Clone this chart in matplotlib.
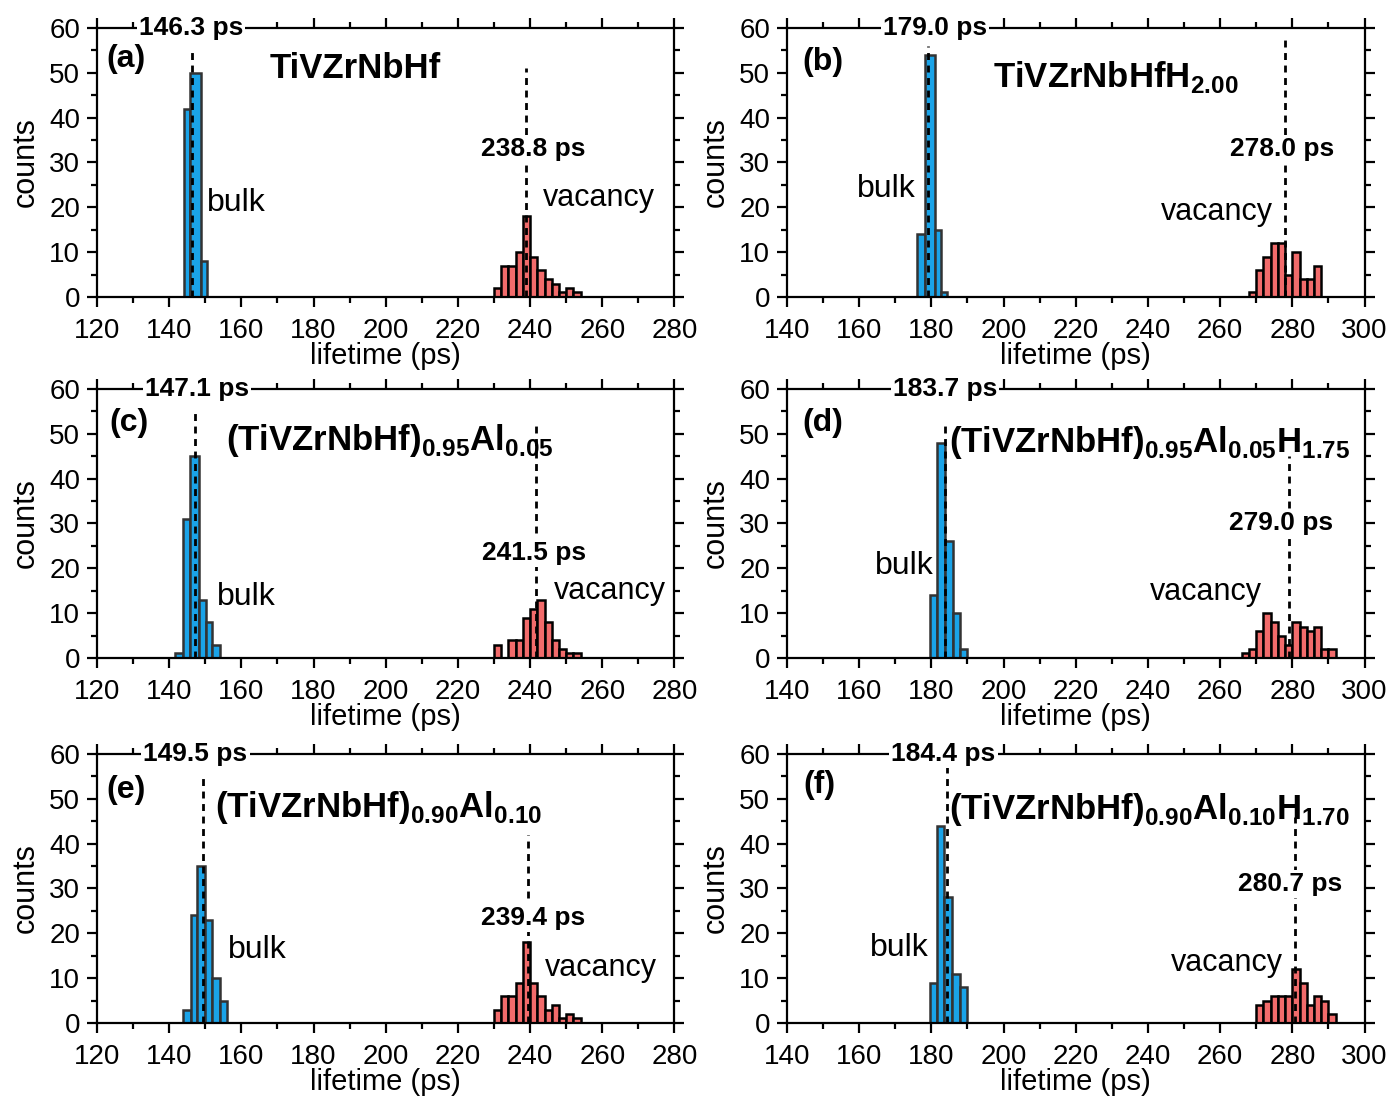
import numpy as np
import matplotlib.pyplot as plt
from matplotlib.ticker import MultipleLocator

plt.rcParams['font.family'] = ['Liberation Sans', 'DejaVu Sans']
plt.rcParams['mathtext.fontset'] = 'custom'
plt.rcParams['mathtext.rm'] = 'Liberation Sans'
plt.rcParams['mathtext.bf'] = 'Liberation Sans:bold'

# bulk histograms (bin edges, counts)
bulk_edges_a = [144.1, 145.7, 148.9, 150.5]
bulk_counts_a = [42, 50, 8]
bulk_edges_b = [176.0, 178.1, 181.0, 182.7, 184.2]
bulk_counts_b = [14, 54, 15, 1]
bulk_edges_c = [141.6, 143.7, 145.8, 148.3, 150.2, 152.0, 154.1]
bulk_counts_c = [1, 31, 45, 13, 8, 3]
bulk_edges_d = [179.6, 181.6, 183.9, 186.0, 188.0, 189.8]
bulk_counts_d = [14, 48, 26, 10, 2]
bulk_edges_e = [143.7, 146.0, 147.8, 149.9, 152.0, 154.1, 156.1]
bulk_counts_e = [3, 24, 35, 23, 10, 5]
bulk_edges_f = [179.6, 181.6, 183.6, 185.7, 187.8, 189.8]
bulk_counts_f = [9, 44, 28, 11, 8]

# vacancy histograms (first edge, 2 ps bins)
vac_start_a = 230
vac_counts_a = [2, 7, 7, 10, 18, 9, 6, 4, 3, 1, 2, 1]
vac_start_b = 268
vac_counts_b = [1, 6, 9, 12, 12, 5, 10, 4, 4, 7]
vac_start_c = 230
vac_counts_c = [3, 0, 4, 4, 9, 11, 13, 8, 4, 2, 1, 1]
vac_start_d = 266
vac_counts_d = [1, 2, 6, 10, 8, 5, 3, 8, 7, 6, 7, 2, 2]
vac_start_e = 230
vac_counts_e = [3, 6, 6, 9, 18, 9, 6, 3, 4, 1, 2, 1]
vac_start_f = 270
vac_counts_f = [4, 5, 6, 6, 6, 12, 9, 4, 6, 5, 2]

# mean lifetimes (ps)
bulk_tau = [146.3, 179.0, 147.1, 183.7, 149.5, 184.4]
vac_tau = [238.8, 278.0, 241.5, 279.0, 239.4, 280.7]

names = ['TiVZrNbHf', r'TiVZrNbHfH$_\mathbf{2.00}$',
         r'(TiVZrNbHf)$_\mathbf{0.95}$Al$_\mathbf{0.05}$',
         r'(TiVZrNbHf)$_\mathbf{0.95}$Al$_\mathbf{0.05}$H$_\mathbf{1.75}$',
         r'(TiVZrNbHf)$_\mathbf{0.90}$Al$_\mathbf{0.10}$',
         r'(TiVZrNbHf)$_\mathbf{0.90}$Al$_\mathbf{0.10}$H$_\mathbf{1.70}$']
letters = ['(a)', '(b)', '(c)', '(d)', '(e)', '(f)']

bulk_edges = [bulk_edges_a, bulk_edges_b, bulk_edges_c, bulk_edges_d, bulk_edges_e, bulk_edges_f]
bulk_counts = [bulk_counts_a, bulk_counts_b, bulk_counts_c, bulk_counts_d, bulk_counts_e, bulk_counts_f]
vac_starts = [vac_start_a, vac_start_b, vac_start_c, vac_start_d, vac_start_e, vac_start_f]
vac_counts = [vac_counts_a, vac_counts_b, vac_counts_c, vac_counts_d, vac_counts_e, vac_counts_f]

# text placement (data coords): letter, name, vac label, bulk word, vacancy word
letter_pos = [(128, 53), (150, 52.5), (129, 52.5), (150, 52.5), (128, 52), (149, 53)]
name_pos = [(191.5, 51), (231, 49), (201, 48.5), (240.5, 48), (198, 48), (240.5, 47.5)]
vlab_pos = [(240.8, 33), (277.3, 33), (241, 23.5), (277, 30), (240.8, 23.5), (279.5, 31)]
bword_pos = [(158.5, 21), (167.5, 24), (161.5, 13.5), (172.5, 20.5), (164.5, 16.3), (171, 16.7)]
vword_pos = [(259, 22), (259, 19), (262, 15), (256, 14.7), (259.5, 12.3), (262, 13.4)]
top_lab_x = [146.0, 181.0, 147.7, 183.8, 147.3, 183.3]
bulk_top = [55, 56, 55, 52, 55, 60]
vac_top = [51, 58, 52, 45, 42, 46]

blue = '#1aa3e8'
red = '#f26b6b'
edge = '#333333'

fig = plt.figure(figsize=(13.89, 11.04), dpi=100)
lefts = [0.0698, 0.5666]
bottoms = [0.7310, 0.4040, 0.0734]

for i in range(6):
    ax = fig.add_axes([lefts[i % 2], bottoms[i // 2], 0.4158, 0.2437])
    left_panel = i % 2 == 0
    be = np.array(bulk_edges[i])
    ax.bar(be[:-1], bulk_counts[i], width=np.diff(be), align='edge',
           color=blue, edgecolor=edge, linewidth=1.8, zorder=2)
    ve = vac_starts[i] + 2 * np.arange(len(vac_counts[i]) + 1)
    ax.bar(ve[:-1], vac_counts[i], width=2, align='edge',
           color=red, edgecolor='black', linewidth=1.8, zorder=2)
    ax.vlines(bulk_tau[i], 0, bulk_top[i], colors='black', linestyles=(0, (2.5, 2)),
              linewidth=2, zorder=3)
    ax.vlines(vac_tau[i], 0, vac_top[i], colors='black', linestyles=(0, (2.5, 2)),
              linewidth=2, zorder=3)

    if left_panel:
        ax.set_xlim(120, 280)
    else:
        ax.set_xlim(140, 300)
    ax.set_ylim(0, 60)
    ax.xaxis.set_major_locator(MultipleLocator(20))
    ax.xaxis.set_minor_locator(MultipleLocator(10))
    ax.yaxis.set_major_locator(MultipleLocator(10))
    ax.yaxis.set_minor_locator(MultipleLocator(5))
    ax.tick_params(which='both', direction='out', top=True, right=True,
                   labelsize=20, width=1.6, pad=5)
    ax.tick_params(axis='x', which='both', pad=8)
    ax.tick_params(which='major', length=7)
    ax.tick_params(which='minor', length=4)
    for s in ax.spines.values():
        s.set_linewidth(1.6)
    ax.set_xlabel('lifetime (ps)', fontsize=21, labelpad=-1)
    ax.set_ylabel('counts', fontsize=22, labelpad=6)

    ax.text(top_lab_x[i], 60, '%.1f ps' % bulk_tau[i], ha='center', va='center',
            fontsize=19, fontweight='bold', zorder=5,
            bbox=dict(facecolor='white', edgecolor='none', pad=1.5))
    ax.text(*letter_pos[i], letters[i], ha='center', va='center', fontsize=23,
            fontweight='bold', zorder=5)
    ax.text(*name_pos[i], names[i], ha='center', va='center', fontsize=25,
            fontweight='bold', zorder=5)
    ax.text(*vlab_pos[i], '%.1f ps' % vac_tau[i], ha='center', va='center',
            fontsize=19, fontweight='bold', zorder=5,
            bbox=dict(facecolor='white', edgecolor='none', pad=1.5))
    ax.text(*bword_pos[i], 'bulk', ha='center', va='center', fontsize=23, zorder=5)
    ax.text(*vword_pos[i], 'vacancy', ha='center', va='center', fontsize=22, zorder=5,
            bbox=dict(facecolor='white', edgecolor='none', pad=1))

fig.savefig('out.png', dpi=100)
